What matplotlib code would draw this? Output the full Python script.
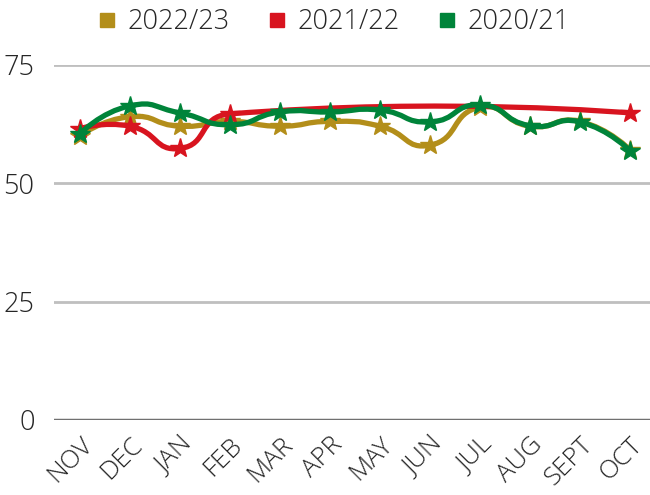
import numpy as np
import matplotlib
matplotlib.use("Agg")
import matplotlib.pyplot as plt
from matplotlib.path import Path
from matplotlib.patches import PathPatch
from matplotlib.lines import Line2D

months = ["NOV", "DEC", "JAN", "FEB", "MAR", "APR", "MAY", "JUN", "JUL", "AUG", "SEPT", "OCT"]
series_names = ["2022/23", "2021/22", "2020/21"]
vals_2223 = [60, 64, 62, 63, 62, 63, 62, 58, 66, 62, 63, 57]
vals_2122 = [61.5, 62, 57.3, 64.6, None, None, None, None, None, None, None, 64.8]
vals_2021 = [60.4, 66.3, 64.8, 62.3, 65, 65, 65.4, 62.9, 66.5, 62.1, 62.9, 56.8]
colors = ["#B38E1A", "#D8141F", "#00843A"]
yticks = [0, 25, 50, 75]

plt.rcParams['font.family'] = ['Open Sans', 'DejaVu Sans']

fig = plt.figure(figsize=(6.5, 4.95), dpi=100)
ax = fig.add_axes([54/650, (495-420)/495, 596/650, 355.4/495])
ax.set_xlim(-0.52, 11.4)
ax.set_ylim(0, 75)
for s in ax.spines.values():
    s.set_visible(False)

ax.set_yticks(yticks)
ax.set_yticklabels([str(t) for t in yticks], fontsize=19.5, color="#262626", fontweight='light')
ax.tick_params(axis='y', length=0, pad=14)
for t in yticks[1:]:
    ax.axhline(t, color="#BFBFBF", lw=2, zorder=1)
ax.axhline(0, color="#707070", lw=2.5, zorder=1)

x = np.arange(len(months))
ax.set_xticks(x)
ax.set_xticklabels(months, rotation=45, ha='right', rotation_mode='anchor',
                   fontsize=18.5, color="#262626", fontweight='light')
ax.tick_params(axis='x', length=0, pad=9)


def smooth_path(xd, yd, smooth=0.55):
    pts = ax.transData.transform(np.column_stack([xd, yd]))
    n = len(pts)
    verts = [pts[0]]
    codes = [Path.MOVETO]
    cp0 = pts[0]
    for i in range(1, n):
        p = pts[i]
        prev = pts[i-1]
        if i == n - 1:
            cp1 = p
            nxt_cp = p
        else:
            nxt = pts[i+1]
            v = nxt - prev
            lp = np.hypot(*(p - prev))
            ln = np.hypot(*(nxt - p))
            r = ln / (ln + lp)
            cp1 = p - v * smooth * (1 - r)
            nxt_cp = p + v * smooth * r
        verts += [cp0, cp1, p]
        codes += [Path.CURVE4] * 3
        cp0 = nxt_cp
    verts = ax.transData.inverted().transform(np.array(verts))
    return Path(verts, codes)


z = 3
for vals, c in zip([vals_2223, vals_2122, vals_2021], colors):
    xs = np.array([i for i, v in enumerate(vals) if v is not None], dtype=float)
    ys = np.array([v for v in vals if v is not None], dtype=float)
    path = smooth_path(xs, ys)
    ax.add_patch(PathPatch(path, facecolor='none', edgecolor=c, lw=3.8,
                           capstyle='round', joinstyle='round', zorder=z, clip_on=False))
    ax.plot(xs, ys, ls='none', marker='*', ms=15, color=c, mec=c, zorder=z+0.5, clip_on=False)
    z += 1

handles = [Line2D([], [], ls='none', marker='s', ms=9.5, color=c) for c in colors]
fig.legend(handles, series_names, loc='center', bbox_to_anchor=(335/650, 1-22/495), ncol=3,
           frameon=False, handlelength=0.5, handletextpad=0.5, columnspacing=1.5,
           prop={'size': 19.5, 'weight': 'light'}, labelcolor="#262626")

fig.savefig("out.png", dpi=100)
